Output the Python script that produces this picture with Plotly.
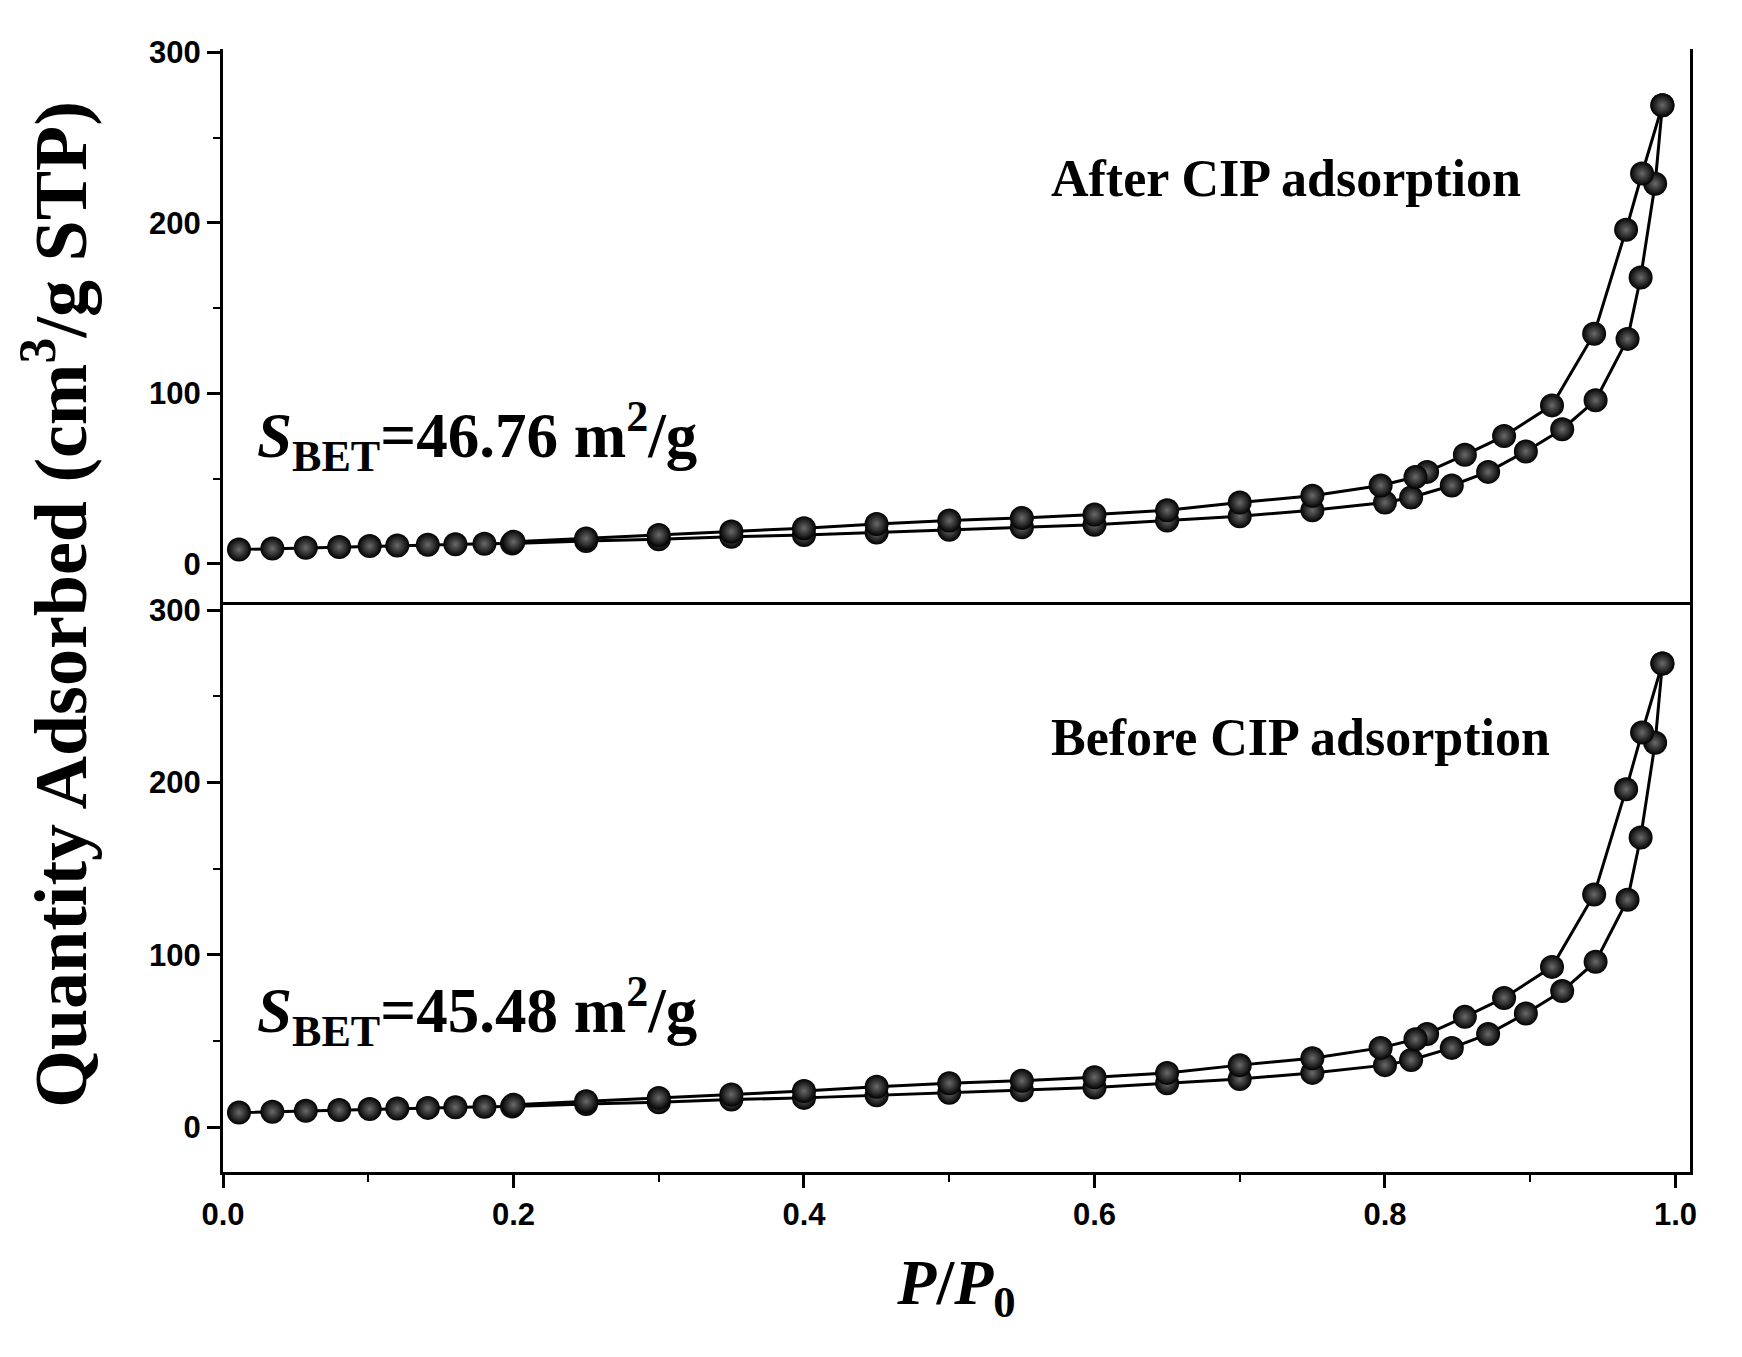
import plotly.graph_objects as go

# P/P0 values and quantity adsorbed (cm3/g STP)
ads_x = [0.011, 0.034, 0.057, 0.080, 0.101, 0.120, 0.141, 0.160, 0.180, 0.199,
         0.25, 0.30, 0.35, 0.40, 0.45, 0.50, 0.55, 0.60, 0.65, 0.70, 0.75, 0.80,
         0.818, 0.846, 0.871, 0.897, 0.922, 0.945, 0.967, 0.976, 0.986, 0.991]
after_ads_y = [8.5, 9, 9.5, 10, 10.5, 10.8, 11.2, 11.5, 11.8, 12,
               13.5, 14.5, 16, 17, 18.5, 20, 21.5, 23, 25.5, 28, 31.5, 36,
               39, 46, 54, 66, 79, 96, 132, 168, 223, 269]
des_x = [0.991, 0.977, 0.966, 0.944, 0.915, 0.882, 0.855, 0.829, 0.821, 0.797,
         0.75, 0.70, 0.65, 0.60, 0.55, 0.50, 0.45, 0.40, 0.35, 0.30, 0.25, 0.20]
after_des_y = [269, 229, 196, 135, 93, 75, 64, 54, 51, 46,
               40, 36, 31.5, 29, 27, 25.5, 23.5, 21, 19, 17, 15, 13]
before_ads_y = [8.5, 9, 9.5, 10, 10.5, 10.8, 11.2, 11.5, 11.8, 12,
                13.5, 14.5, 16, 17, 18.5, 20, 21.5, 23, 25.5, 28, 31.5, 36,
                39, 46, 54, 66, 79, 96, 132, 168, 223, 269]
before_des_y = [269, 229, 196, 135, 93, 75, 64, 54, 51, 46,
                40, 36, 31.5, 29, 27, 25.5, 23.5, 21, 19, 17, 15, 13]

x_ticks = [0.0, 0.2, 0.4, 0.6, 0.8, 1.0]
y_ticks = [0, 100, 200, 300]

marker = dict(size=24, color="black", symbol="circle",
              gradient=dict(type="radial", color="#6a6a6a"),
              line=dict(width=0))
line = dict(color="black", width=3)

fig = go.Figure()
for xs, ys, ya in [(ads_x, after_ads_y, "y2"), (des_x, after_des_y, "y2"),
                   (ads_x, before_ads_y, "y"), (des_x, before_des_y, "y")]:
    fig.add_trace(go.Scatter(x=xs, y=ys, yaxis=ya, mode="lines+markers",
                             marker=marker, line=line, showlegend=False))

tickfont = dict(family="Liberation Sans, Arial", size=31, color="black", weight="bold")
axis_common = dict(showline=True, linecolor="black", linewidth=3, mirror=True,
                   ticks="outside", ticklen=13, tickwidth=2.5, tickcolor="black",
                   showgrid=False, zeroline=False, tickfont=tickfont)
minor_y = dict(dtick=50, tick0=0, ticks="outside", ticklen=7, tickwidth=2, tickcolor="black")

fig.update_layout(
    width=1742, height=1357,
    margin=dict(l=215, r=60, t=41, b=193),
    paper_bgcolor="white", plot_bgcolor="white",
    xaxis=dict(range=[0, 1.01], tickvals=x_ticks, ticktext=[f"{v:.1f}" for v in x_ticks],
               minor=dict(dtick=0.1, ticks="outside", ticklen=7, tickwidth=2, tickcolor="black"),
               title=dict(text="<b><i>P</i>/<i>P</i><sub>0</sub></b>",
                          font=dict(family="Liberation Serif, Times New Roman", size=64, color="black"),
                          standoff=28),
               **axis_common),
    yaxis=dict(domain=[0, 0.505], range=[-26, 303], tickvals=y_ticks, minor=minor_y, **axis_common),
    yaxis2=dict(domain=[0.505, 1], range=[-24, 302], tickvals=y_ticks, anchor="x",
                minor=minor_y, **axis_common),
)

serif = "Liberation Serif, Times New Roman"
fig.add_annotation(text="<b>Quantity Adsorbed (cm<sup>3</sup>/g STP)</b>", textangle=-90,
                   xref="paper", yref="paper", x=-0.114, y=0.505, showarrow=False,
                   xanchor="center", yanchor="middle",
                   font=dict(family=serif, size=74, color="black"))
fig.add_annotation(text="<b>After CIP adsorption</b>", x=0.732, y=226, xref="x", yref="y2",
                   showarrow=False, font=dict(family=serif, size=52, color="black"))
fig.add_annotation(text="<b>Before CIP adsorption</b>", x=0.742, y=226, xref="x", yref="y",
                   showarrow=False, font=dict(family=serif, size=52, color="black"))
fig.add_annotation(text="<b><i>S</i><sub>BET</sub>=46.76 m<sup>2</sup>/g</b>", x=0.022, y=75,
                   xref="x", yref="y2", xanchor="left", showarrow=False,
                   font=dict(family=serif, size=63, color="black"))
fig.add_annotation(text="<b><i>S</i><sub>BET</sub>=45.48 m<sup>2</sup>/g</b>", x=0.022, y=67,
                   xref="x", yref="y", xanchor="left", showarrow=False,
                   font=dict(family=serif, size=63, color="black"))

fig.write_html("out.html")
